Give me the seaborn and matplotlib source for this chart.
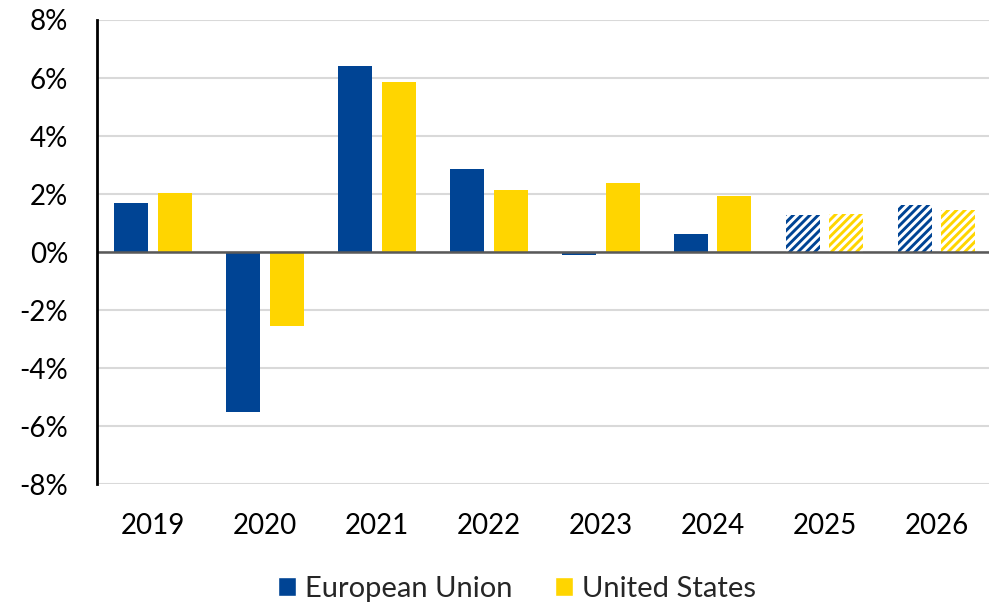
import matplotlib
matplotlib.use("Agg")
import matplotlib.pyplot as plt
import seaborn as sns
import pandas as pd

# Annual real GDP growth, % (2025 and 2026 are forecasts)
years = ["2019", "2020", "2021", "2022", "2023", "2024", "2025", "2026"]
eu_growth = [1.7, -5.5, 6.4, 2.85, -0.1, 0.63, 1.27, 1.63]
us_growth = [2.03, -2.55, 5.88, 2.14, 2.38, 1.94, 1.32, 1.46]
forecast_years = ["2025", "2026"]
regions = ["European Union", "United States"]
colors = ["#004494", "#FFD500"]
y_ticks = [-8, -6, -4, -2, 0, 2, 4, 6, 8]

df = pd.DataFrame({
    "year": years * 2,
    "region": [regions[0]] * len(years) + [regions[1]] * len(years),
    "growth": eu_growth + us_growth,
})

sns.set_theme(style="white")
plt.rcParams["font.family"] = ["Lato", "DejaVu Sans"]
plt.rcParams["hatch.linewidth"] = 2.1

fig = plt.figure(figsize=(9.89, 6.03), dpi=100)
ax = fig.add_axes([97.2 / 989, 1 - 484.3 / 603, 1 - 97.2 / 989, 464.3 / 603])

sns.barplot(data=df, x="year", y="growth", hue="region", order=years,
            hue_order=regions, palette=colors, width=0.78, gap=0.22,
            saturation=1, ax=ax, zorder=3)

# Forecast years are drawn as striped bars
for container, col in zip(ax.containers, colors):
    for yr, bar in zip(years, container.patches):
        bar.set_linewidth(0)
        if yr in forecast_years:
            bar.set_facecolor("white")
            bar.set_edgecolor(col)
            bar.set_hatch("////")

ax.set_ylim(-8, 8)
ax.set_xlim(-0.5, 7.47)
ax.set_yticks(y_ticks)
ax.set_yticklabels([f"{t}%" for t in y_ticks])
ax.set_xlabel("")
ax.set_ylabel("")

ax.yaxis.grid(True, color="#d9d9d9", linewidth=1.5, zorder=0)
ax.set_axisbelow(True)
ax.axhline(0, color="#595959", linewidth=1.8, zorder=4)

for side in ["top", "right", "bottom"]:
    ax.spines[side].set_visible(False)
ax.spines["left"].set_color("black")
ax.spines["left"].set_linewidth(2.0)
ax.spines["left"].set_zorder(5)

ax.tick_params(axis="y", length=0, pad=21, labelsize=20, labelcolor="black")
ax.tick_params(axis="x", length=0, pad=21, labelsize=20, labelcolor="black")

handles, labels = ax.get_legend_handles_labels()
ax.get_legend().remove()
fig.legend(handles, labels, loc="center", bbox_to_anchor=(517 / 989, 1 - 589 / 603),
           ncol=2, frameon=False, fontsize=21, handlelength=0.62,
           handleheight=0.62, handletextpad=0.3, columnspacing=1.45,
           borderpad=0, borderaxespad=0)

fig.savefig("out.png", dpi=100)
